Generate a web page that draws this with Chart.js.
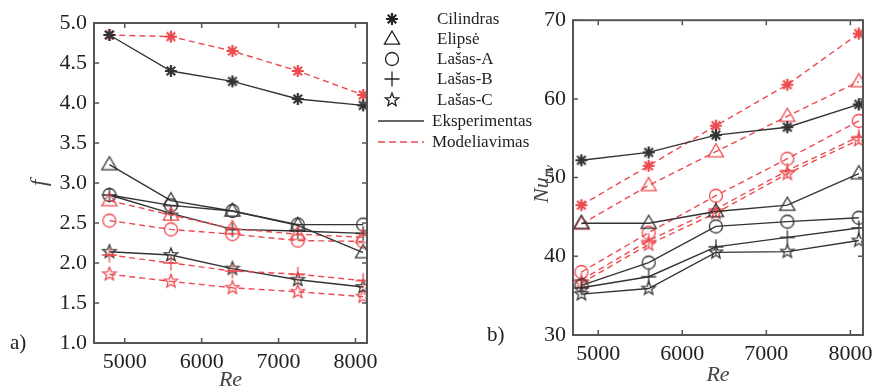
<!DOCTYPE html>
<html>
<head>
<meta charset="utf-8">
<script src="https://cdn.jsdelivr.net/npm/chart.js@4.4.1/dist/chart.umd.min.js"></script>
<style>
  html, body { margin: 0; padding: 0; background: #fff; overflow: hidden; }
  body { width: 872px; height: 388px; position: relative; font-family: "Liberation Serif", "Times New Roman", serif; color: #222; }
  canvas { position: absolute; top: 0; }
  #left { left: 0; }
  #right { left: 480px; }
  #legend { left: 370px; z-index: 2; }
  .tag { position: absolute; font-size: 21px; line-height: 21px; z-index: 3; }
  .lbl { position: absolute; font-size: 17px; line-height: 17px; white-space: nowrap; z-index: 3; }
</style>
</head>
<body>
<canvas id="left" width="395" height="388"></canvas>
<canvas id="right" width="410" height="388"></canvas>
<canvas id="legend" width="200" height="160"></canvas>
<div class="tag" style="left:10px; top:332px">a)</div>
<div class="tag" style="left:487px; top:324px">b)</div>
<div id="legendText"></div>

<script>
// Re values (x)
const re = [4800, 5600, 6400, 7250, 8100];
const names = ['Cilindras', 'Elipsė', 'Lašas-A', 'Lašas-B', 'Lašas-C'];

// f - eksperimentas
const fCilExp = [4.85, 4.40, 4.27, 4.05, 3.97];
const fEliExp = [3.23, 2.78, 2.65, 2.47, 2.13];
const fLaAExp = [2.85, 2.72, 2.65, 2.48, 2.48];
const fLaBExp = [2.85, 2.62, 2.42, 2.40, 2.37];
const fLaCExp = [2.14, 2.10, 1.93, 1.79, 1.70];
// f - modeliavimas
const fCilMod = [4.85, 4.83, 4.65, 4.40, 4.10];
const fEliMod = [2.78, 2.60, 2.43, 2.36, 2.32];
const fLaAMod = [2.53, 2.42, 2.36, 2.28, 2.27];
const fLaBMod = [2.10, 2.00, 1.90, 1.86, 1.78];
const fLaCMod = [1.86, 1.77, 1.69, 1.64, 1.58];

// Nu_av - eksperimentas
const nuCilExp = [52.2, 53.2, 55.4, 56.4, 59.3];
const nuEliExp = [44.2, 44.2, 45.7, 46.5, 50.5];
const nuLaAExp = [36.3, 39.2, 43.8, 44.4, 44.9];
const nuLaBExp = [36.0, 37.4, 41.2, 42.4, 43.6];
const nuLaCExp = [35.2, 35.9, 40.5, 40.6, 42.0];
// Nu_av - modeliavimas
const nuCilMod = [46.5, 51.5, 56.6, 61.8, 68.3];
const nuEliMod = [44.1, 49.0, 53.3, 57.8, 62.2];
const nuLaAMod = [38.0, 43.0, 47.7, 52.4, 57.2];
const nuLaBMod = [37.0, 42.0, 46.0, 50.9, 55.2];
const nuLaCMod = [36.6, 41.5, 45.5, 50.5, 54.8];

// tick labels
const reTicks = [5000, 6000, 7000, 8000];
const fTicks = [1.0, 1.5, 2.0, 2.5, 3.0, 3.5, 4.0, 4.5, 5.0];
const nuTicks = [30, 40, 50, 60, 70];

const BLACK = '#333';
const RED = '#ec4a4f';
const serif = "'Liberation Serif', 'Times New Roman', serif";
const kinds = ['asterisk', 'triangle', 'circle', 'plus', 'star5'];

function drawMark(ctx, kind, x, y, color) {
  ctx.save();
  ctx.strokeStyle = color;
  ctx.lineWidth = 1.3;
  ctx.beginPath();
  if (kind === 'asterisk') {
    const r = 6;
    ctx.lineWidth = 2.2;
    for (let k = 0; k < 4; k++) {
      const a = k * Math.PI / 4;
      ctx.moveTo(x - r * Math.cos(a), y - r * Math.sin(a));
      ctx.lineTo(x + r * Math.cos(a), y + r * Math.sin(a));
    }
  } else if (kind === 'triangle') {
    const r = 8;
    ctx.moveTo(x, y - r);
    ctx.lineTo(x + r * 0.95, y + r * 0.65);
    ctx.lineTo(x - r * 0.95, y + r * 0.65);
    ctx.closePath();
  } else if (kind === 'circle') {
    ctx.arc(x, y, 6.5, 0, Math.PI * 2);
  } else if (kind === 'plus') {
    const r = 7.5;
    ctx.moveTo(x - r, y); ctx.lineTo(x + r, y);
    ctx.moveTo(x, y - r); ctx.lineTo(x, y + r);
  } else if (kind === 'star5') {
    for (let k = 0; k < 10; k++) {
      const a = -Math.PI / 2 + k * Math.PI / 5;
      const rr = k % 2 ? 3 : 7;
      const px = x + rr * Math.cos(a), py = y + rr * Math.sin(a);
      if (k === 0) ctx.moveTo(px, py); else ctx.lineTo(px, py);
    }
    ctx.closePath();
  }
  ctx.stroke();
  ctx.restore();
}

function markImage(kind, color) {
  const c = document.createElement('canvas');
  c.width = 20; c.height = 20;
  drawMark(c.getContext('2d'), kind, 10, 10, color);
  return c;
}

function line(label, values, kind, color, dash) {
  return {
    label: label,
    data: re.map((x, k) => ({ x: x, y: values[k] })),
    borderColor: color,
    borderWidth: 1.4,
    borderDash: dash,
    pointStyle: markImage(kind, color),
    pointRadius: 7,
    tension: 0
  };
}

function buildDatasets(exp, mod) {
  const ds = [];
  names.forEach((n, i) => {
    ds.push(line(n + ' (eksperimentas)', exp[i], kinds[i], BLACK, []));
    ds.push(line(n + ' (modeliavimas)', mod[i], kinds[i], RED, [6, 4]));
  });
  return ds;
}

// box with inward ticks on all sides
const frame = {
  id: 'frame',
  afterDatasetsDraw(chart) {
    const { ctx, chartArea: a, scales } = chart;
    ctx.save();
    ctx.strokeStyle = '#555';
    ctx.lineWidth = 2;
    ctx.strokeRect(a.left, a.top, a.right - a.left, a.bottom - a.top);
    ctx.lineWidth = 1.5;
    ctx.beginPath();
    scales.x.ticks.forEach(t => {
      const px = scales.x.getPixelForValue(t.value);
      ctx.moveTo(px, a.bottom); ctx.lineTo(px, a.bottom - 5);
      ctx.moveTo(px, a.top); ctx.lineTo(px, a.top + 5);
    });
    scales.y.ticks.forEach(t => {
      const py = scales.y.getPixelForValue(t.value);
      ctx.moveTo(a.left, py); ctx.lineTo(a.left + 5, py);
      ctx.moveTo(a.right, py); ctx.lineTo(a.right - 5, py);
    });
    ctx.stroke();
    ctx.restore();
  }
};

const nuTitle = {
  id: 'nuTitle',
  afterDraw(chart) {
    const ctx = chart.ctx;
    ctx.save();
    ctx.translate(68, 184);
    ctx.rotate(-Math.PI / 2);
    ctx.fillStyle = '#444';
    ctx.textBaseline = 'alphabetic';
    ctx.font = 'italic 22px ' + serif;
    const w1 = ctx.measureText('Nu').width;
    ctx.font = 'italic 13px ' + serif;
    const w2 = ctx.measureText('av').width;
    const x0 = -(w1 + w2) / 2;
    ctx.font = 'italic 22px ' + serif;
    ctx.fillText('Nu', x0, 0);
    ctx.font = 'italic 13px ' + serif;
    ctx.fillText('av', x0 + w1, 5);
    ctx.restore();
  }
};

function makeChart(id, cfg) {
  return new Chart(document.getElementById(id), {
    type: 'line',
    data: { datasets: cfg.datasets },
    options: {
      responsive: false,
      animation: false,
      layout: { padding: cfg.padding },
      plugins: { legend: { display: false }, tooltip: { enabled: false } },
      scales: {
        x: {
          type: 'linear',
          min: cfg.xMin, max: 8150,
          afterBuildTicks: s => { s.ticks = reTicks.map(v => ({ value: v })); },
          afterFit: s => { s.height = cfg.xHeight; },
          grid: { display: false, drawTicks: false },
          border: { display: false },
          ticks: { font: { family: serif, size: 22 }, color: '#222', padding: 6, maxRotation: 0, autoSkip: false, callback: v => String(v) },
          title: {
            display: true, text: 'Re', color: '#444',
            font: { family: serif, size: 22, style: 'italic', lineHeight: 1 },
            padding: { top: 0, bottom: cfg.reBottom }
          }
        },
        y: {
          min: cfg.yMin, max: cfg.yMax,
          afterBuildTicks: s => { s.ticks = cfg.yTicks.map(v => ({ value: v })); },
          afterFit: s => { s.width = cfg.yWidth; },
          grid: { display: false, drawTicks: false },
          border: { display: false },
          ticks: { font: { family: serif, size: 22 }, color: '#222', padding: 7, callback: cfg.yFmt },
          title: cfg.yTitle
        }
      }
    },
    plugins: cfg.plugins
  });
}

makeChart('left', {
  datasets: buildDatasets(
    [fCilExp, fEliExp, fLaAExp, fLaBExp, fLaCExp],
    [fCilMod, fEliMod, fLaAMod, fLaBMod, fLaCMod]),
  padding: { top: 23, right: 28, bottom: 0, left: 0 },
  xMin: 4600, xHeight: 45, reBottom: -3,
  yMin: 1, yMax: 5, yTicks: fTicks, yWidth: 94,
  yFmt: v => v.toFixed(1),
  yTitle: {
    display: true, text: 'f', color: '#444',
    font: { family: serif, size: 24, style: 'italic', lineHeight: 1 },
    padding: { top: 28, bottom: 0 }
  },
  plugins: [frame]
});

makeChart('right', {
  datasets: buildDatasets(
    [nuCilExp, nuEliExp, nuLaAExp, nuLaBExp, nuLaCExp],
    [nuCilMod, nuEliMod, nuLaAMod, nuLaBMod, nuLaCMod]),
  padding: { top: 20, right: 27, bottom: 0, left: 0 },
  xMin: 4700, xHeight: 53, reBottom: 2,
  yMin: 30, yMax: 70, yTicks: nuTicks, yWidth: 93,
  yFmt: v => String(v),
  yTitle: { display: false },
  plugins: [frame, nuTitle]
});

// legend between the panels
const lg = document.getElementById('legend').getContext('2d');
const rowY = [19, 39, 59, 79, 100];
const box = document.getElementById('legendText');
names.forEach((n, i) => {
  drawMark(lg, kinds[i], 22, rowY[i], '#222');
  const d = document.createElement('div');
  d.className = 'lbl';
  d.style.left = '437px';
  d.style.top = (rowY[i] - 9) + 'px';
  d.textContent = n;
  box.appendChild(d);
});
lg.save();
lg.lineWidth = 1.6;
lg.strokeStyle = BLACK;
lg.beginPath(); lg.moveTo(8, 121); lg.lineTo(54, 121); lg.stroke();
lg.strokeStyle = RED;
lg.setLineDash([7, 4]);
lg.beginPath(); lg.moveTo(8, 142); lg.lineTo(54, 142); lg.stroke();
lg.restore();
[['Eksperimentas', 121], ['Modeliavimas', 142]].forEach(([t, y]) => {
  const d = document.createElement('div');
  d.className = 'lbl';
  d.style.left = '432px';
  d.style.top = (y - 9) + 'px';
  d.textContent = t;
  box.appendChild(d);
});
</script>
</body>
</html>
